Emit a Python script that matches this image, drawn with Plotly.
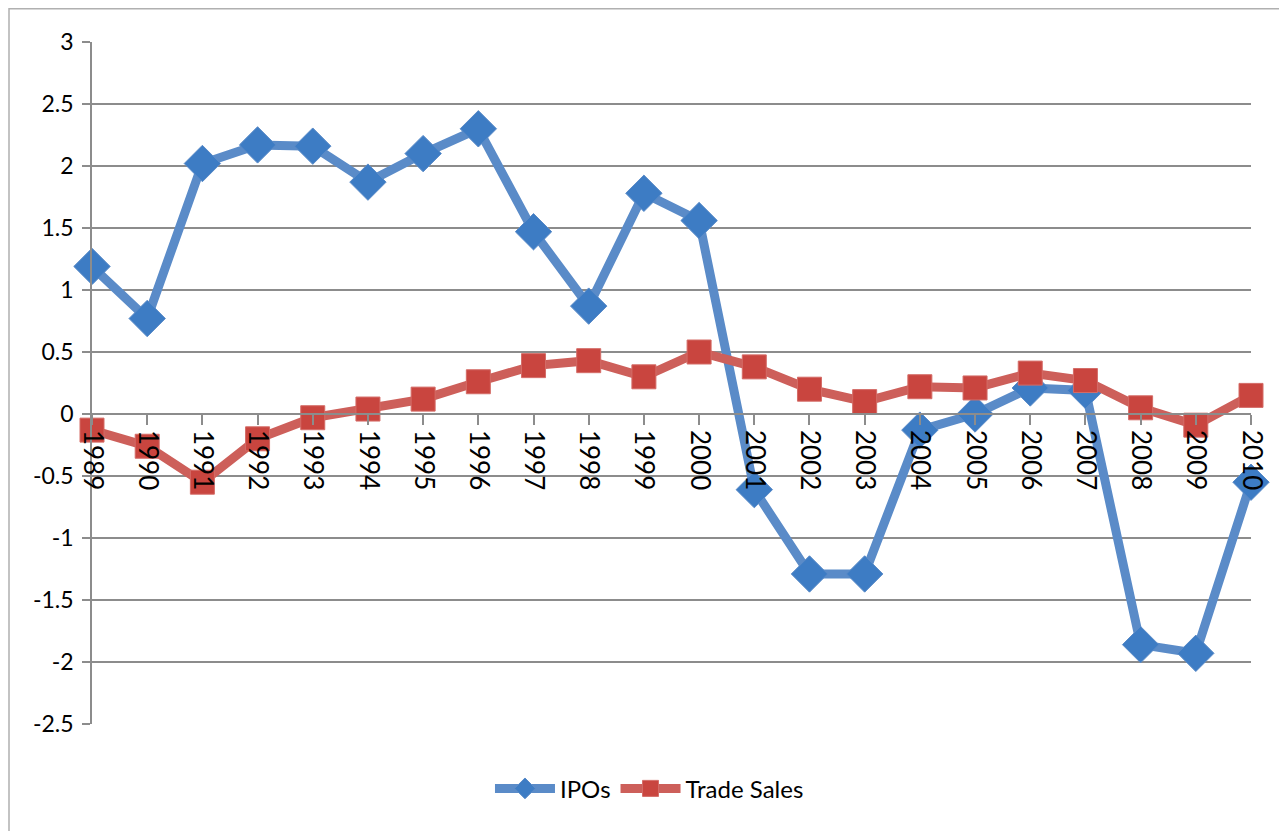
import plotly.graph_objects as go

years = ["1989", "1990", "1991", "1992", "1993", "1994", "1995", "1996", "1997", "1998", "1999",
         "2000", "2001", "2002", "2003", "2004", "2005", "2006", "2007", "2008", "2009", "2010"]
ipos = [1.19, 0.77, 2.02, 2.17, 2.16, 1.87, 2.10, 2.30, 1.47, 0.87, 1.78,
        1.56, -0.61, -1.29, -1.29, -0.13, 0.00, 0.21, 0.19, -1.86, -1.93, -0.55]
trade_sales = [-0.13, -0.26, -0.55, -0.20, -0.03, 0.04, 0.12, 0.26, 0.39, 0.43, 0.30,
               0.50, 0.38, 0.20, 0.10, 0.22, 0.21, 0.33, 0.27, 0.05, -0.09, 0.15]
y_ticks = [3, 2.5, 2, 1.5, 1, 0.5, 0, -0.5, -1, -1.5, -2, -2.5]
y_labels = ["3", "2.5", "2", "1.5", "1", "0.5", "0", "-0.5", "-1", "-1.5", "-2", "-2.5"]

y_min, y_max = -2.5, 3.0
OFF = 8  # page body margin
W, H = 1287 - OFF, 831 - OFF
ml, mr, mt, mb = 92 - OFF, 36, 42 - OFF, 107

fig = go.Figure()
fig.add_trace(go.Scatter(
    x=years, y=ipos, name="IPOs", mode="lines+markers",
    line=dict(color="#5a8bc8", width=9),
    marker=dict(symbol="diamond", size=28, color="#3d7cc4",
                line=dict(color="#5a8bc8", width=1)),
    cliponaxis=False))
fig.add_trace(go.Scatter(
    x=years, y=trade_sales, name="Trade Sales", mode="lines+markers",
    line=dict(color="#cd5f5a", width=9),
    marker=dict(symbol="square", size=24, color="#c9453f",
                line=dict(color="#d46c67", width=1)),
    cliponaxis=False))

grid = "#8c8c8c"
fig.update_layout(
    width=W, height=H,
    margin=dict(l=ml, r=mr, t=mt, b=mb, autoexpand=False),
    paper_bgcolor="white", plot_bgcolor="white",
    font=dict(family="Lato, Open Sans, sans-serif", color="black"),
    showlegend=True,
    legend=dict(orientation="h", x=0.481, xanchor="center", y=-0.062, yanchor="top",
                font=dict(size=24), itemwidth=60, traceorder="normal"),
    xaxis=dict(type="category", range=[0, len(years) - 1],
               anchor="free", position=(0 - y_min) / (y_max - y_min),
               showgrid=False, showline=True, linecolor=grid, linewidth=1.5,
               ticks="outside", ticklen=10, tickcolor=grid, tickwidth=1.5,
               tickangle=90, tickfont=dict(size=26), zeroline=False),
    yaxis=dict(range=[y_min, y_max], tickvals=y_ticks, ticktext=y_labels,
               showgrid=True, gridcolor=grid, gridwidth=1.5,
               showline=True, linecolor=grid, linewidth=1.5,
               ticks="outside", ticklen=8, tickcolor=grid, tickwidth=1.5,
               tickfont=dict(size=23), zeroline=False, ticklabelstandoff=4),
)

pw = W - ml - mr
ph = H - mt - mb
# chart-area frame
fig.add_shape(type="rect", xref="paper", yref="paper",
              x0=(1 - ml) / pw, x1=(1277 - ml) / pw,
              y0=(H - mb - 860) / ph, y1=(H - mb - 0.8) / ph,
              line=dict(color="#b0b0b0", width=1.5), layer="below")

fig.write_html("out.html")
